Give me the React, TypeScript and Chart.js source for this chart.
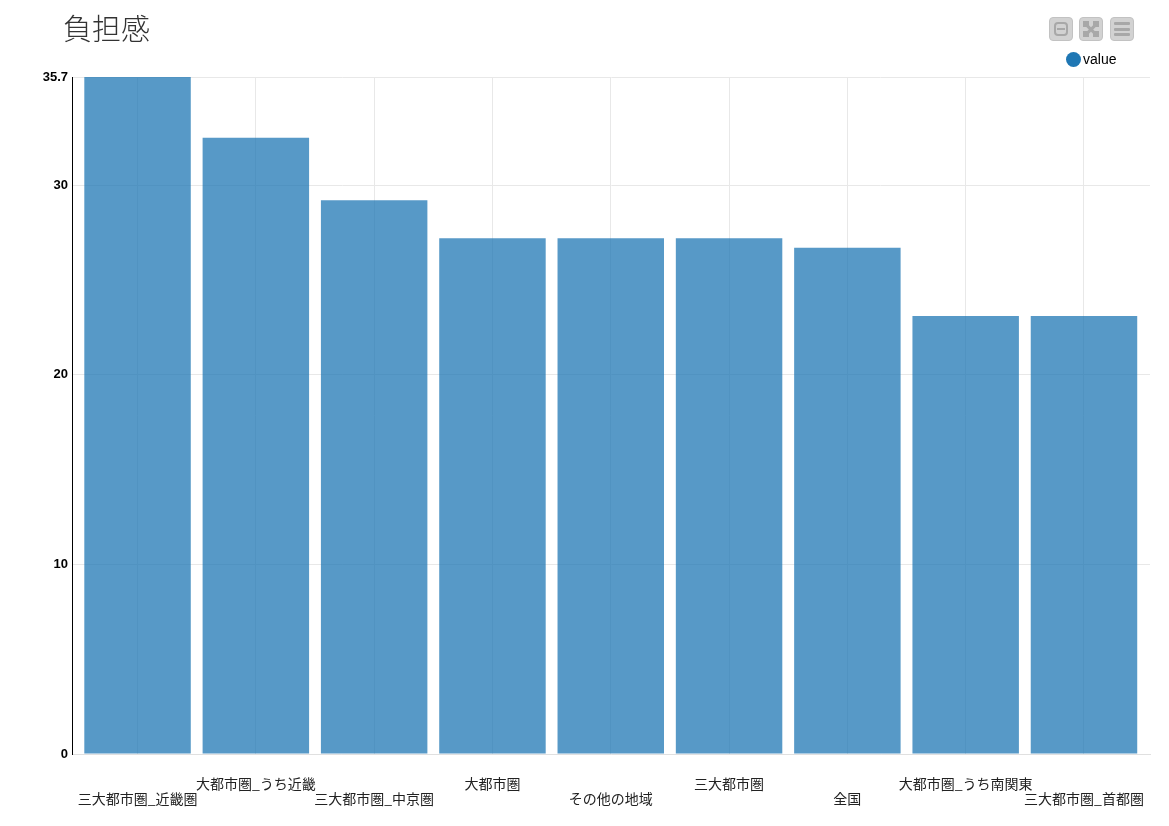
import React, { useEffect, useRef } from "react";
import { Chart, registerables } from "chart.js";

Chart.register(...registerables);

const TITLE = "負担感";
const SERIES_NAME = "value";
const categories = [
  "三大都市圏_近畿圏",
  "大都市圏_うち近畿",
  "三大都市圏_中京圏",
  "大都市圏",
  "その他の地域",
  "三大都市圏",
  "全国",
  "大都市圏_うち南関東",
  "三大都市圏_首都圏",
];
const values = [35.7, 32.5, 29.2, 27.2, 27.2, 27.2, 26.7, 23.1, 23.1];
const yTicks = [0, 10, 20, 30, 35.7];

const BAR = "rgba(31,119,180,0.75)";

function Btn({ left, children }: { left: number; children: React.ReactNode }) {
  return (
    <div
      style={{
        position: "absolute",
        left,
        top: 17,
        width: 24,
        height: 24,
        borderRadius: 4,
        background: "#d2d2d2",
        border: "1px solid #c2c2c2",
        boxSizing: "border-box",
      }}
    >
      {children}
    </div>
  );
}

const ICON = "#a8a8a8";

export default function App() {
  const ref = useRef<HTMLCanvasElement | null>(null);

  useEffect(() => {
    if (!ref.current) return;
    const points = values.map((v, i) => ({ x: i, y: v }));
    const chart = new Chart(ref.current, {
      type: "bar",
      data: {
        datasets: [
          {
            label: SERIES_NAME,
            data: points,
            backgroundColor: BAR,
            borderWidth: 0,
            barPercentage: 0.9,
            categoryPercentage: 1,
          },
        ],
      },
      options: {
        responsive: false,
        animation: false,
        layout: { padding: { left: 0, top: 77, right: 19, bottom: 0 } },
        plugins: {
          legend: { display: false },
          title: { display: false },
          tooltip: { enabled: false },
        },
        scales: {
          x: {
            type: "linear",
            min: -0.554,
            max: 8.558,
            offset: false,
            afterBuildTicks: (s: any) => {
              s.ticks = categories.map((_, i) => ({ value: i }));
            },
            grid: {
              offset: false,
              color: "#e8e8e8",
              drawTicks: false,
            },
            border: { color: "#e0e0e0" },
            ticks: {
              autoSkip: false,
              maxRotation: 0,
              minRotation: 0,
              padding: 22,
              color: "#222",
              font: { family: "'Noto Sans CJK JP', sans-serif", size: 14, lineHeight: "15px" },
              callback: (v: any) => {
                const i = Math.round(Number(v));
                const c = categories[i];
                if (c === undefined) return "";
                return i % 2 === 0 ? ["", c] : [c];
              },
            },
            afterFit: (s: any) => {
              s.height = 72;
            },
          },
          y: {
            min: 0,
            max: 35.7,
            afterBuildTicks: (s: any) => {
              s.ticks = yTicks.map((v) => ({ value: v }));
            },
            grid: { color: "#e8e8e8", drawTicks: false },
            border: { color: "#000", width: 1 },
            ticks: {
              padding: 4,
              color: "#000",
              font: { family: "'Liberation Sans', Arial, sans-serif", size: 13, weight: "bold" },
              callback: (v: any) => String(v),
            },
            afterFit: (s: any) => {
              s.width = 72;
            },
          },
        },
      },
    });
    return () => chart.destroy();
  }, []);

  return (
    <div style={{ position: "absolute", left: 0, top: 0, width: 1169, height: 826, background: "#fff" }}>
      <canvas ref={ref} width={1169} height={826} style={{ position: "absolute", left: 0, top: 0 }} />
      <div
        style={{
          position: "absolute",
          left: 63,
          top: 7,
          fontFamily: "'Noto Sans CJK JP', sans-serif",
          fontSize: 29,
          fontWeight: 300,
          color: "#333",
          lineHeight: "40px",
        }}
      >
        {TITLE}
      </div>
      <Btn left={1049}>
        <div style={{ position: "absolute", left: 4, top: 4, width: 14, height: 14, border: `2px solid ${ICON}`, borderRadius: 4, boxSizing: "border-box" }} />
        <div style={{ position: "absolute", left: 7, top: 10, width: 8, height: 2, background: ICON }} />
      </Btn>
      <Btn left={1079}>
        <div style={{ position: "absolute", left: 3, top: 10, width: 16, height: 3, background: ICON, transform: "rotate(45deg)" }} />
        <div style={{ position: "absolute", left: 3, top: 10, width: 16, height: 3, background: ICON, transform: "rotate(-45deg)" }} />
        <div style={{ position: "absolute", left: 3, top: 3, width: 6, height: 6, background: ICON }} />
        <div style={{ position: "absolute", left: 13, top: 3, width: 6, height: 6, background: ICON }} />
        <div style={{ position: "absolute", left: 3, top: 13, width: 6, height: 6, background: ICON }} />
        <div style={{ position: "absolute", left: 13, top: 13, width: 6, height: 6, background: ICON }} />
      </Btn>
      <Btn left={1110}>
        <div style={{ position: "absolute", left: 3, top: 4, width: 16, height: 3, background: ICON, borderRadius: 1 }} />
        <div style={{ position: "absolute", left: 3, top: 9.5, width: 16, height: 3, background: ICON, borderRadius: 1 }} />
        <div style={{ position: "absolute", left: 3, top: 15, width: 16, height: 3, background: ICON, borderRadius: 1 }} />
      </Btn>
      <div
        style={{
          position: "absolute",
          left: 1066,
          top: 51,
          display: "flex",
          alignItems: "center",
          fontFamily: "'Liberation Sans', Arial, sans-serif",
          fontSize: 14,
          color: "#000",
        }}
      >
        <span style={{ display: "inline-block", width: 15, height: 15, borderRadius: 8, background: "#1f77b4", marginRight: 2 }} />
        <span>{SERIES_NAME}</span>
      </div>
    </div>
  );
}
